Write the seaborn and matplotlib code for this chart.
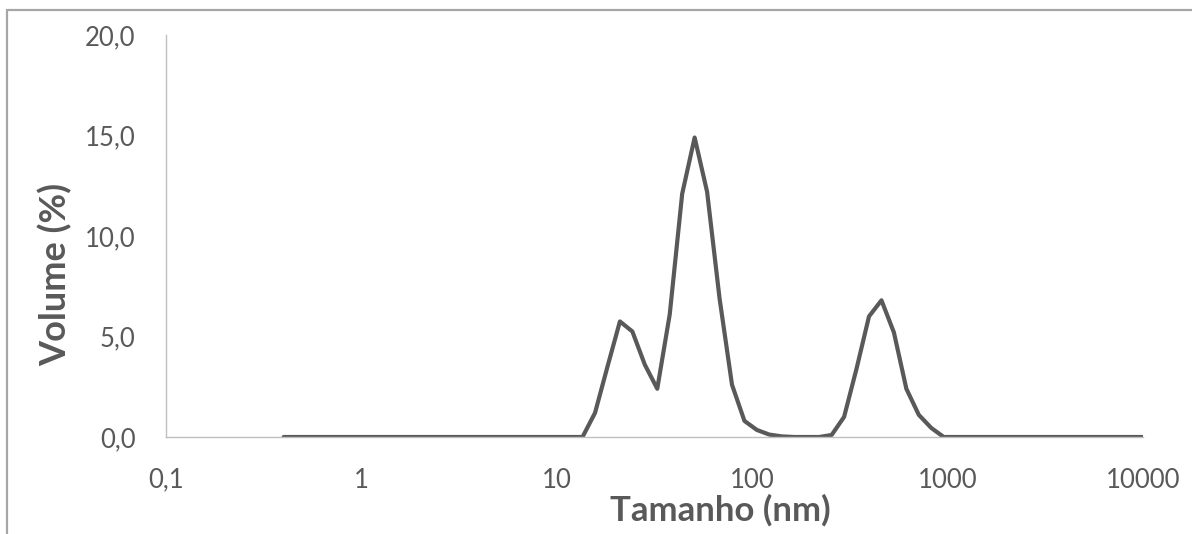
import numpy as np
import pandas as pd
import matplotlib
matplotlib.use("Agg")
import matplotlib.pyplot as plt
from matplotlib.lines import Line2D
import seaborn as sns

# Zetasizer size bins (nm), 70 log-spaced classes from 0.4 to 10000
size_nm = [0.4, 0.4632, 0.5365, 0.6213, 0.7195, 0.8332, 0.9649, 1.117, 1.294, 1.499,
           1.736, 2.01, 2.328, 2.696, 3.122, 3.615, 4.187, 4.849, 5.615, 6.503,
           7.531, 8.721, 10.1, 11.7, 13.54, 15.69, 18.17, 21.04, 24.36, 28.21,
           32.67, 37.84, 43.82, 50.75, 58.77, 68.06, 78.82, 91.28, 105.7, 122.4,
           141.8, 164.2, 190.1, 220.2, 255.0, 295.3, 342.0, 396.1, 458.7, 531.2,
           615.1, 712.4, 825.0, 955.4, 1106, 1281, 1484, 1718, 1990, 2305,
           2669, 3091, 3580, 4145, 4801, 5560, 6439, 7456, 8635, 10000]
volume_pct = [0.0] * 24 + [0.0, 1.2, 3.5, 5.75, 5.25, 3.6, 2.4, 6.1, 12.1, 14.9,
                           12.2, 6.9, 2.6, 0.8, 0.35, 0.12, 0.03, 0.0, 0.0, 0.0,
                           0.1, 1.0, 3.4, 6.0, 6.8, 5.2, 2.4, 1.1, 0.45, 0.0] + [0.0] * 16

x_ticks = [0.1, 1, 10, 100, 1000, 10000]
x_tick_labels = ["0,1", "1", "10", "100", "1000", "10000"]
y_ticks = [0, 5, 10, 15, 20]
y_tick_labels = ["0,0", "5,0", "10,0", "15,0", "20,0"]

sns.set_style("white")
plt.rcParams["font.family"] = ["Lato", "DejaVu Sans"]

df = pd.DataFrame({"Tamanho (nm)": size_nm, "Volume (%)": volume_pct})

W, H = 1192, 534
fig = plt.figure(figsize=(W / 100, H / 100), dpi=100)
ax = fig.add_axes([166 / W, 1 - 437 / H, (1143 - 166) / W, (437 - 35) / H])

sns.lineplot(data=df, x="Tamanho (nm)", y="Volume (%)", ax=ax, color="#595959",
             linewidth=3.0, solid_capstyle="round", solid_joinstyle="round")

ax.set_xscale("log")
ax.set_xlim(0.1, 10000)
ax.set_ylim(0, 20)
ax.set_xticks(x_ticks)
ax.set_xticklabels(x_tick_labels)
ax.set_yticks(y_ticks)
ax.set_yticklabels(y_tick_labels)
ax.minorticks_off()
ax.tick_params(axis="both", length=0, labelsize=18.5, labelcolor="#595959")
ax.tick_params(axis="x", pad=22)
ax.tick_params(axis="y", pad=22)

for s in ["top", "right"]:
    ax.spines[s].set_visible(False)
for s in ["left", "bottom"]:
    ax.spines[s].set_color("#BFBFBF")
    ax.spines[s].set_linewidth(1.0)

ax.set_xlabel("Tamanho (nm)", fontsize=25, fontweight="bold", color="#595959")
ax.set_ylabel("Volume (%)", fontsize=26, fontweight="bold", color="#595959")
ax.xaxis.set_label_coords((720 - 166) / (1143 - 166), -(494 - 437) / (437 - 35))
ax.yaxis.set_label_coords(-(166 - 72) / (1143 - 166), (437 - 274) / (437 - 35))

# chart frame (partially visible)
fig.add_artist(Line2D([7 / W, 1.0], [1 - 10 / H, 1 - 10 / H], transform=fig.transFigure,
                      color="#A6A6A6", linewidth=1.6))
fig.add_artist(Line2D([7 / W, 7 / W], [0.0, 1 - 10 / H], transform=fig.transFigure,
                      color="#A6A6A6", linewidth=1.6))

fig.savefig("out.png", dpi=100)
